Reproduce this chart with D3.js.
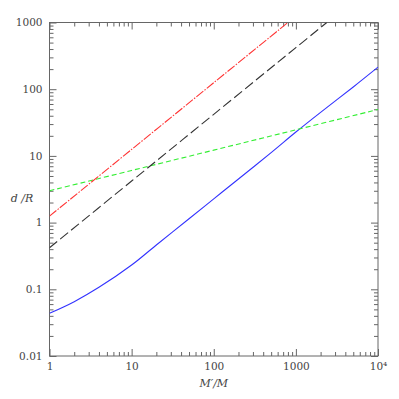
<!DOCTYPE html>
<html><head><meta charset="utf-8">
<script src="https://cdn.jsdelivr.net/npm/d3@7"></script>
<style>
html,body{margin:0;padding:0;background:#fff;}
svg{display:block;}
text{font-family:"DejaVu Serif","Liberation Serif",serif;fill:#444;}
</style></head>
<body>
<svg id="c" width="399" height="399"></svg>
<script>
// ---- data ----
const xTicks = [1, 10, 100, 1000, 10000];
const xTickLabels = ["1", "10", "100", "1000", "10\u2074"];
const yTicks = [0.01, 0.1, 1, 10, 100, 1000];
const yTickLabels = ["0.01", "0.1", "1", "10", "100", "1000"];

const blueX = [1, 2, 4, 10, 20, 50, 100, 200, 500, 1000, 2000, 5000, 10000];
const blueY = [0.0436, 0.0652, 0.107, 0.231, 0.462, 1.14, 2.27, 4.5, 11.2, 22.8, 45, 108, 214];

const greenX = [1, 10, 100, 1000, 10000];
const greenY = [3.0, 6.05, 12.2, 24.6, 49.6];

const redX = [1, 10, 100, 800];
const redY = [1.25, 12.5, 125, 1000];

const blackX = [1, 10, 100, 1000, 2380];
const blackY = [0.42, 4.2, 42, 420, 1000];

// ---- layout ----
const L = 49.5, R = 378, T = 22.5, B = 356;
const svg = d3.select("#c");
const x = d3.scaleLog().domain([1, 1e4]).range([L, R]);
const y = d3.scaleLog().domain([0.01, 1000]).range([B, T]);

svg.append("defs").append("clipPath").attr("id", "clip")
  .append("rect").attr("x", L).attr("y", T).attr("width", R - L).attr("height", B - T);

const minorOf = (lo, hi) => {
  const out = [];
  for (let d = lo; d < hi; d *= 10) for (let k = 2; k <= 9; k++) out.push(d * k);
  return out;
};
const xMinor = minorOf(1, 1e4);
const yMinor = minorOf(0.01, 1000);
const axisColor = "#666";
const MAJ = 7, MIN = 4;

function styleAxis(g) {
  g.select(".domain").remove();
  g.selectAll("line").attr("stroke", axisColor).attr("stroke-width", 1);
}

svg.append("g").attr("transform", `translate(0,${B})`)
  .call(d3.axisBottom(x).tickValues(xTicks).tickSize(-MAJ).tickPadding(7)
    .tickFormat((d, i) => xTickLabels[i]))
  .call(styleAxis)
  .call(g => g.selectAll("text").attr("font-size", 10.5).attr("fill", "#444")
    .attr("font-family", "DejaVu Serif, serif"));
svg.append("g").attr("transform", `translate(0,${B})`)
  .call(d3.axisBottom(x).tickValues(xMinor).tickSize(-MIN).tickFormat(""))
  .call(styleAxis);
svg.append("g").attr("transform", `translate(0,${T})`)
  .call(d3.axisTop(x).tickValues(xTicks).tickSize(-MAJ).tickFormat(""))
  .call(styleAxis);
svg.append("g").attr("transform", `translate(0,${T})`)
  .call(d3.axisTop(x).tickValues(xMinor).tickSize(-MIN).tickFormat(""))
  .call(styleAxis);
svg.append("g").attr("transform", `translate(${L},0)`)
  .call(d3.axisLeft(y).tickValues(yTicks).tickSize(-MAJ).tickPadding(7)
    .tickFormat((d, i) => yTickLabels[i]))
  .call(styleAxis)
  .call(g => g.selectAll("text").attr("font-size", 10.5).attr("fill", "#444")
    .attr("font-family", "DejaVu Serif, serif"));
svg.append("g").attr("transform", `translate(${L},0)`)
  .call(d3.axisLeft(y).tickValues(yMinor).tickSize(-MIN).tickFormat(""))
  .call(styleAxis);
svg.append("g").attr("transform", `translate(${R},0)`)
  .call(d3.axisRight(y).tickValues(yTicks).tickSize(-MAJ).tickFormat(""))
  .call(styleAxis);
svg.append("g").attr("transform", `translate(${R},0)`)
  .call(d3.axisRight(y).tickValues(yMinor).tickSize(-MIN).tickFormat(""))
  .call(styleAxis);

svg.append("rect").attr("x", L).attr("y", T).attr("width", R - L).attr("height", B - T)
  .attr("fill", "none").attr("stroke", axisColor).attr("stroke-width", 1);

const line = d3.line().x(d => x(d[0])).y(d => y(d[1])).curve(d3.curveCatmullRom.alpha(0.5));
const series = [
  {xs: blueX, ys: blueY, color: "#3333ff", dash: null},
  {xs: greenX, ys: greenY, color: "#33ee33", dash: "5,3"},
  {xs: redX, ys: redY, color: "#ff3333", dash: "9,1.5,1.5,1.5"},
  {xs: blackX, ys: blackY, color: "#333333", dash: "10,4"}
];
const gl = svg.append("g").attr("clip-path", "url(#clip)");
series.forEach(s => {
  gl.append("path").datum(s.xs.map((v, i) => [v, s.ys[i]]))
    .attr("d", line).attr("fill", "none").attr("stroke", s.color)
    .attr("stroke-width", 1.1).attr("stroke-dasharray", s.dash);
});

svg.append("text").attr("x", (L + R) / 2).attr("y", 387)
  .attr("text-anchor", "middle").attr("font-size", 11).attr("font-style", "italic")
  .text("M\u2032/M");

svg.append("text").attr("x", 22).attr("y", 202)
  .attr("text-anchor", "middle").attr("font-size", 11).attr("font-style", "italic")
  .text("d /R");
</script>
</body></html>
